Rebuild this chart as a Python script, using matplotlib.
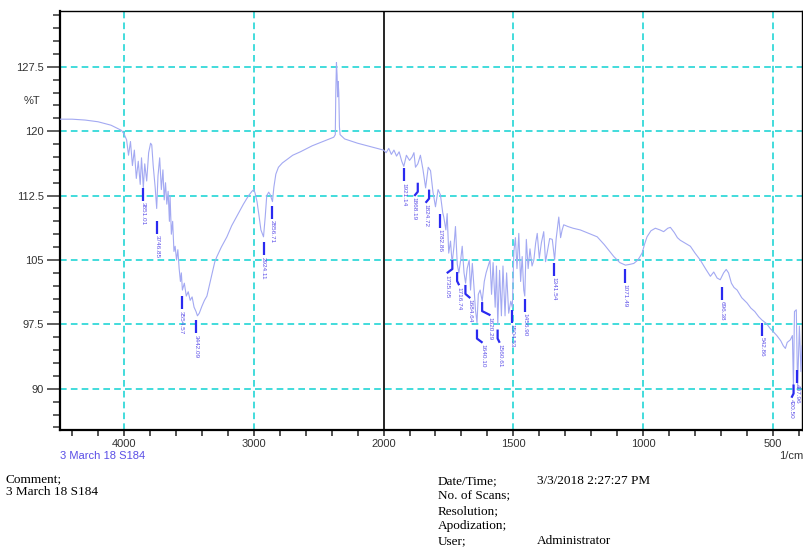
import numpy as np
import matplotlib
matplotlib.use("Agg")
from matplotlib import pyplot as plt
from matplotlib import transforms as mtransforms
from matplotlib.ticker import FixedLocator, MultipleLocator, NullFormatter

# FTIR trace, wavenumber (1/cm) and transmittance (%T)
wavenumber = [
    4490, 4400, 4300, 4200, 4100, 4020, 4000,
    3980, 3965, 3950, 3935, 3920, 3905, 3890, 3875, 3865, 3851, 3840, 3825,
    3810, 3795, 3786, 3775, 3760, 3748, 3738, 3725, 3712,
    3700, 3690, 3680, 3670, 3660, 3650, 3645, 3635, 3625, 3615, 3606, 3595,
    3585, 3575, 3565, 3558, 3550, 3535, 3520, 3505, 3490, 3475, 3460, 3445,
    3434, 3420, 3400, 3380, 3361, 3340, 3320, 3300, 3284, 3250, 3207, 3170,
    3130, 3080, 3040, 3014, 3000, 2990, 2975, 2960, 2945, 2925, 2912, 2900,
    2885, 2873, 2856, 2845, 2830, 2810, 2780, 2700, 2641, 2550, 2450, 2384,
    2372, 2368, 2363, 2358, 2354, 2350, 2345, 2340, 2335, 2300, 2200, 2100,
    2000, 1990, 1980, 1970, 1960, 1950, 1940, 1930, 1922, 1912, 1900, 1890,
    1883, 1877, 1868, 1858, 1848, 1838, 1828, 1819, 1810, 1800, 1790, 1781,
    1772, 1768, 1760, 1755, 1749, 1742, 1736, 1729, 1723, 1716, 1710, 1703,
    1697, 1690, 1684, 1678, 1670, 1665, 1658, 1652, 1646, 1640, 1635, 1628,
    1620, 1612, 1605, 1598, 1590, 1584, 1578, 1570, 1565, 1560, 1553, 1546,
    1540, 1532, 1526, 1518, 1510, 1504, 1498, 1492, 1486, 1479, 1472, 1466,
    1460, 1456, 1450, 1443, 1436, 1428, 1421, 1414, 1408, 1400, 1392, 1383,
    1376, 1370, 1360, 1350, 1341, 1335, 1325, 1318, 1312, 1306, 1290, 1270,
    1242, 1210, 1177, 1150, 1113, 1090, 1068, 1050, 1036, 1020, 1004, 995,
    985, 970, 953, 935, 921, 905, 895, 880, 868, 857, 840, 818,
    800, 780, 760, 741, 728, 715, 703, 690, 680, 671, 660, 650,
    638, 620, 600, 585, 570, 555, 542, 525, 510, 497, 485, 470,
    460, 452, 445, 433, 425, 421, 417, 410, 405, 398, 392, 388,
]
transmittance = [
    121.4, 121.4, 121.3, 121.1, 120.7, 120.1, 119.7,
    119.0, 117.2, 118.8, 116.0, 117.8, 114.5, 116.5, 113.8, 116.9, 113.4, 116.2, 114.2,
    117.5, 118.6, 118.4, 116.0, 113.5, 111.0, 114.8, 116.9, 113.2,
    115.5, 112.0, 114.0, 111.5, 113.0, 109.5, 112.5, 108.0, 109.5, 106.0, 106.6, 105.0,
    106.2, 104.0, 102.5, 103.5, 101.5, 102.3, 100.8, 101.3, 100.3, 100.7, 99.5, 99.0,
    98.5, 98.8, 99.6, 100.3, 100.8, 102.2, 103.5, 104.8, 105.4, 106.5, 107.7, 109.0,
    110.1, 111.5, 112.5, 113.0, 113.2, 112.8, 111.8, 110.2, 108.5, 107.7, 110.0, 112.5,
    112.9, 112.6, 111.8, 113.5, 115.0, 115.8, 116.3, 117.2, 117.6, 118.3, 118.9, 119.3,
    119.6, 124.5, 128.0, 126.5, 124.0, 125.8, 124.5, 120.5, 119.6, 119.1, 118.6, 118.2,
    117.8, 117.5, 118.0, 117.3, 117.8, 117.1, 117.6, 116.5, 115.9, 117.2, 116.6, 117.0,
    117.5, 115.8, 116.2, 117.2, 115.5, 113.4, 115.8, 115.4, 113.0, 111.2, 113.2, 112.6,
    110.5, 110.0, 108.5, 110.4, 105.8, 107.2, 104.6, 106.5, 108.9, 104.5, 103.5, 105.0,
    106.6, 103.5, 102.3, 104.0, 105.0, 101.5, 104.6, 102.0, 99.2, 97.7, 101.0, 101.5,
    100.2, 102.5, 103.5, 104.2, 105.0, 101.0, 104.7, 99.5, 104.3, 97.5, 103.8, 98.5,
    104.3, 98.5, 103.5, 98.8, 100.2, 99.5, 106.0, 107.6, 104.0, 108.1, 102.5, 105.4,
    101.5, 100.8, 107.4, 104.0, 106.3, 104.3, 105.0, 107.0, 108.1, 105.2, 107.0, 108.3,
    104.8, 105.8, 107.5, 107.4, 105.0, 107.5, 110.0, 107.6, 108.5, 109.1, 108.9, 108.7,
    108.5, 108.1, 107.7, 106.8, 105.4, 104.7, 104.4, 104.5, 104.6, 105.0, 105.8, 106.8,
    107.7, 108.4, 108.7, 108.5, 108.3, 108.7, 108.8, 108.2, 107.6, 107.3, 107.0, 106.6,
    105.8, 105.0, 104.0, 103.1, 103.6, 102.9, 102.7, 103.5, 103.9, 103.5, 102.3, 101.8,
    101.5, 100.6, 100.0, 99.4, 99.0, 98.4, 98.0, 97.6, 97.0, 96.6, 96.2, 95.6,
    95.0, 94.7, 95.4, 95.7, 96.2, 90.3, 99.0, 99.2, 90.1, 97.3, 92.0, 95.0,
]

# picked peaks: label text and %T where the marker starts
peak_labels = [
    "3851.01", "3746.85", "3554.57", "3442.09", "2924.11", "2856.71",
    "1921.14", "1868.19", "1824.72", "1782.86", "1735.05", "1716.74",
    "1684.64", "1640.10", "1620.29", "1560.61", "1504.53", "1456.90",
    "1341.54", "1071.49", "696.38", "542.86", "420.50", "407.96",
]
peak_wn = [float(s) for s in peak_labels]
peak_t = [
    113.4, 109.6, 100.8, 98.0, 107.1, 111.3,
    115.7, 114.0, 113.2, 110.3, 105.0, 103.6,
    102.1, 96.9, 100.1, 96.9, 99.2, 100.5,
    104.7, 103.9, 101.9, 97.7, 90.5, 92.2,
]
# sideways shift of crowded labels (points)
label_shift = {"1868.19": -2.5, "1824.72": -2.5, "1735.05": -4, "1716.74": 1.5,
               "1684.64": 3.5, "1640.10": 4, "1620.29": 6, "1560.61": 1.5,
               "420.50": -1.5}

x_major = [4000, 3000, 2000, 1500, 1000, 500]
y_major = [90, 97.5, 105, 112.5, 120, 127.5]


def fwd(x):
    x = np.asarray(x, dtype=float)
    return np.where(x > 2000, x - 2000, 2 * (x - 2000))


def inv(t):
    t = np.asarray(t, dtype=float)
    return np.where(t > 0, t + 2000, t / 2 + 2000)


W, H = 804, 548
fig = plt.figure(figsize=(W / 100, H / 100), dpi=100)
ax = fig.add_axes([60 / W, 1 - 430 / H, 742 / W, 419 / H])
ax.set_xscale("function", functions=(fwd, inv))
ax.set_xlim(4493, 388)
ax.set_ylim(85.2, 134.0)

grid_kw = dict(color="#22d6d6", lw=1.2, ls=(0, (4, 2.5)), zorder=1)
for v in x_major:
    if v == 2000:
        ax.axvline(v, color="black", lw=1.2, zorder=2)
    else:
        ax.axvline(v, **grid_kw)
for v in y_major:
    ax.axhline(v, **grid_kw)

ax.plot(wavenumber, transmittance, color="#a3a9f2", lw=0.8, zorder=3)

# leader lines are drawn in points, anchored at each peak
pt = mtransforms.Affine2D().scale(fig.dpi / 72.0)
for lab, wn, t in zip(peak_labels, peak_wn, peak_t):
    dx = label_shift.get(lab, 0)
    anchor = ax.transData.transform((wn, t))
    tr = pt + mtransforms.Affine2D().translate(*anchor)
    ys = [0, -6.5, -9.5] if dx else [0, -9.5, -9.5]
    ax.plot([0, 0, dx], ys, color="#2a2af0", lw=1.6, transform=tr,
            zorder=4, clip_on=False, solid_capstyle="butt")
    ax.annotate(lab, xy=(wn, t), xycoords="data",
                xytext=(dx, -10.5), textcoords="offset points",
                rotation=270, ha="center", va="top", fontsize=4.6,
                color="#5d50e8", family="Liberation Sans", zorder=4,
                annotation_clip=False)

for s in ax.spines.values():
    s.set_color("black")
    s.set_linewidth(1.0)
ax.spines["left"].set_linewidth(1.6)
ax.spines["bottom"].set_linewidth(1.6)

ax.xaxis.set_major_locator(FixedLocator(x_major))
ax.xaxis.set_minor_locator(FixedLocator(list(range(4400, 2000, -200)) +
                                        list(range(1900, 399, -100))))
ax.xaxis.set_minor_formatter(NullFormatter())
ax.set_xticklabels([str(v) for v in x_major])
ax.yaxis.set_major_locator(FixedLocator(y_major))
ax.yaxis.set_minor_locator(MultipleLocator(1.5))
ax.set_yticklabels(["90", "97.5", "105", "112.5", "120", "127.5"])

ax.tick_params(axis="x", which="both", direction="out", length=4.5, width=1.2,
               color="#333333", pad=2, labelsize=8, labelcolor="#333333")
ax.tick_params(axis="y", which="major", direction="out", length=9.5, width=1.2,
               color="#444444", pad=2, labelsize=8, labelcolor="#333333")
ax.tick_params(axis="y", which="minor", direction="out", length=5, width=1.2,
               color="#444444")
for lbl in ax.get_xticklabels() + ax.get_yticklabels():
    lbl.set_family("Liberation Sans")

sans = "Liberation Sans"
serif = "Liberation Serif"
fig.text(32 / W, 1 - 101 / H, "%T", ha="center", va="center", fontsize=8,
         color="#333333", family=sans)
fig.text(803 / W, 1 - 456 / H, "1/cm", ha="right", va="center", fontsize=8,
         color="#333333", family=sans)
fig.text(60 / W, 1 - 456 / H, "3 March 18 S184", ha="left", va="center",
         fontsize=8, color="#5a4ee6", family=sans)

fig.text(6 / W, 1 - 479 / H, "Comment;", ha="left", va="center", fontsize=9.5,
         color="black", family=serif)
fig.text(6 / W, 1 - 492 / H, "3 March 18 S184", ha="left", va="center",
         fontsize=9.5, color="black", family=serif)
info_rows = [("Date/Time;", "3/3/2018 2:27:27 PM"), ("No. of Scans;", ""),
             ("Resolution;", ""), ("Apodization;", ""), ("User;", "Administrator")]
for i, (k, v) in enumerate(info_rows):
    y = 1 - (481 + i * 15) / H
    fig.text(438 / W, y, k, ha="left", va="center", fontsize=9.5,
             color="black", family=serif)
    if v:
        fig.text(537 / W, y, v, ha="left", va="center", fontsize=9.5,
                 color="black", family=serif)

fig.savefig("out.png", dpi=100)
